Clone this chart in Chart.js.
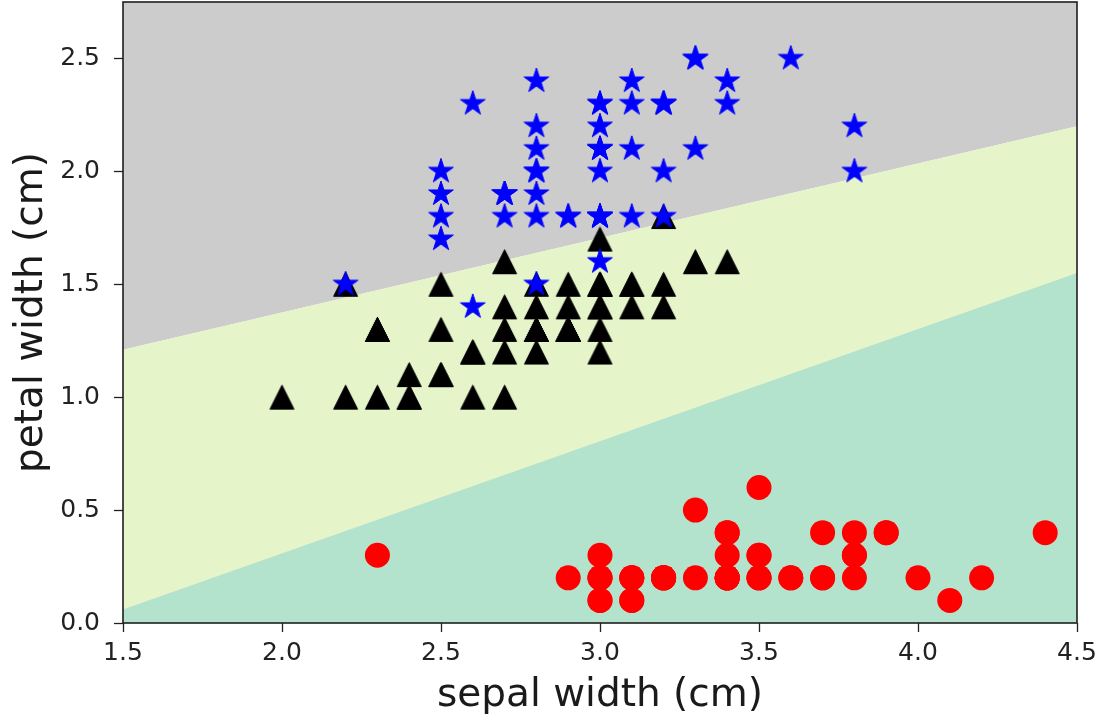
<!DOCTYPE html>
<html>
<head>
<meta charset="utf-8">
<script src="https://cdn.jsdelivr.net/npm/chart.js@4/dist/chart.umd.min.js"></script>
<style>
  html, body { margin: 0; padding: 0; background: #ffffff; }
  #wrap { width: 1095px; height: 720px; }
</style>
</head>
<body>
<div id="wrap"><canvas id="c" width="1095" height="720"></canvas></div>
<script>
// ---- Data ----
const setosaSepalWidth  = [3.5,3.0,3.2,3.1,3.6,3.9,3.4,3.4,2.9,3.1,3.7,3.4,3.0,3.0,4.0,4.4,3.9,3.5,3.8,3.8,3.4,3.7,3.6,3.3,3.4,3.0,3.4,3.5,3.4,3.2,3.1,3.4,4.1,4.2,3.1,3.2,3.5,3.1,3.0,3.4,3.5,2.3,3.2,3.5,3.8,3.0,3.8,3.2,3.7,3.3];
const setosaPetalWidth  = [0.2,0.2,0.2,0.2,0.2,0.4,0.3,0.2,0.2,0.1,0.2,0.2,0.1,0.1,0.2,0.4,0.4,0.3,0.3,0.3,0.2,0.4,0.2,0.5,0.2,0.2,0.4,0.2,0.2,0.2,0.2,0.4,0.1,0.2,0.2,0.2,0.2,0.1,0.2,0.2,0.3,0.3,0.2,0.6,0.4,0.3,0.2,0.2,0.2,0.2];

const versicolorSepalWidth = [3.2,3.2,3.1,2.3,2.8,2.8,3.3,2.4,2.9,2.7,2.0,3.0,2.2,2.9,2.9,3.1,3.0,2.7,2.2,2.5,3.2,2.8,2.5,2.8,2.9,3.0,2.8,3.0,2.9,2.6,2.4,2.4,2.7,2.7,3.0,3.4,3.1,2.3,3.0,2.5,2.6,3.0,2.6,2.3,2.7,3.0,2.9,2.9,2.5,2.8];
const versicolorPetalWidth = [1.4,1.5,1.5,1.3,1.5,1.3,1.6,1.0,1.3,1.4,1.0,1.5,1.0,1.4,1.3,1.4,1.5,1.0,1.5,1.1,1.8,1.3,1.5,1.2,1.3,1.4,1.4,1.7,1.5,1.0,1.1,1.0,1.2,1.6,1.5,1.6,1.5,1.3,1.3,1.3,1.2,1.4,1.2,1.0,1.3,1.2,1.3,1.3,1.1,1.3];

const virginicaSepalWidth = [3.3,2.7,3.0,2.9,3.0,3.0,2.5,2.9,2.5,3.6,3.2,2.7,3.0,2.5,2.8,3.2,3.0,3.8,2.6,2.2,3.2,2.8,2.8,2.7,3.3,3.2,2.8,3.0,2.8,3.0,2.8,3.8,2.8,2.8,2.6,3.0,3.4,3.1,3.0,3.1,3.1,3.1,2.7,3.2,3.3,3.0,2.5,3.0,3.4,3.0];
const virginicaPetalWidth = [2.5,1.9,2.1,1.8,2.2,2.1,1.7,1.8,1.8,2.5,2.0,1.9,2.1,2.0,2.4,2.3,1.8,2.2,2.3,1.5,2.3,2.0,2.0,1.8,2.1,1.8,1.8,1.8,2.1,1.6,1.9,2.0,2.2,1.5,1.4,2.3,2.4,1.8,1.8,2.1,2.4,2.3,1.9,2.3,2.5,2.3,1.9,2.0,2.3,1.8];

// Decision boundaries (sepal width -> petal width), read at the plot edges
const boundaryX     = [1.5, 4.5];
const upperBoundary = [1.21, 2.20];   // grey / yellow-green
const lowerBoundary = [0.06, 1.55];   // yellow-green / teal

const xTickValues = [1.5, 2.0, 2.5, 3.0, 3.5, 4.0, 4.5];
const yTickValues = [0.0, 0.5, 1.0, 1.5, 2.0, 2.5];
const xTitle = 'sepal width (cm)';
const yTitle = 'petal width (cm)';

// ---- helpers ----
const pts = (xs, ys) => xs.map((x, i) => ({x: x, y: ys[i]}));

function makeTriangle(color, h) {
  const s = Math.ceil(2 * h + 3);
  const cv = document.createElement('canvas');
  cv.width = s; cv.height = s;
  const c = cv.getContext('2d');
  const cx = s / 2, cy = s / 2;
  c.beginPath();
  c.moveTo(cx, cy - h);
  c.lineTo(cx - h, cy + h);
  c.lineTo(cx + h, cy + h);
  c.closePath();
  c.fillStyle = color; c.fill();
  c.lineWidth = 1; c.strokeStyle = color; c.stroke();
  return cv;
}
function makeStar(color, R) {
  const s = Math.ceil(2 * R + 4);
  const cv = document.createElement('canvas');
  cv.width = s; cv.height = s;
  const c = cv.getContext('2d');
  const cx = s / 2, cy = s / 2;
  const r = R * 0.381966;
  c.beginPath();
  for (let k = 0; k < 10; k++) {
    const rad = (k % 2 === 0) ? R : r;
    const a = -Math.PI / 2 + k * Math.PI / 5;
    const px = cx + rad * Math.cos(a), py = cy + rad * Math.sin(a);
    if (k === 0) c.moveTo(px, py); else c.lineTo(px, py);
  }
  c.closePath();
  c.fillStyle = color; c.fill();
  c.lineWidth = 1; c.strokeStyle = color; c.lineJoin = 'round'; c.stroke();
  return cv;
}

const triImg = makeTriangle('#000000', 12);
const starImg = makeStar('#0000ff', 13);

const framePlugin = {
  id: 'frame',
  afterDatasetsDraw(chart) {
    const a = chart.chartArea, ctx = chart.ctx;
    ctx.save();
    ctx.strokeStyle = '#1f1f1f';
    ctx.lineWidth = 1.6;
    ctx.strokeRect(a.left, a.top, a.right - a.left, a.bottom - a.top);
    ctx.restore();
  }
};

const tickFont = {family: 'DejaVu Sans', size: 25};
const titleFont = {family: 'DejaVu Sans', size: 39};

new Chart(document.getElementById('c'), {
  type: 'scatter',
  data: {
    datasets: [
      { type: 'line', label: 'grey', data: pts(boundaryX, upperBoundary), fill: 'end',
        backgroundColor: '#cccccc', borderWidth: 0, pointRadius: 0, order: 30 },
      { type: 'line', label: 'yellow', data: pts(boundaryX, upperBoundary), fill: 'start',
        backgroundColor: '#e5f4c9', borderWidth: 0, pointRadius: 0, order: 29 },
      { type: 'line', label: 'teal', data: pts(boundaryX, lowerBoundary), fill: 'start',
        backgroundColor: '#b3e2cd', borderWidth: 0, pointRadius: 0, order: 28 },
      { label: 'setosa', data: pts(setosaSepalWidth, setosaPetalWidth),
        pointStyle: 'circle', pointRadius: 12.5, backgroundColor: '#ff0000', borderWidth: 0, order: 3 },
      { label: 'versicolor', data: pts(versicolorSepalWidth, versicolorPetalWidth),
        pointStyle: triImg, pointRadius: 12, order: 2 },
      { label: 'virginica', data: pts(virginicaSepalWidth, virginicaPetalWidth),
        pointStyle: starImg, pointRadius: 12, order: 1 }
    ]
  },
  options: {
    responsive: false,
    animation: false,
    events: [],
    layout: { autoPadding: false, padding: { left: 0, right: 18, top: 2, bottom: 0 } },
    plugins: { legend: { display: false }, tooltip: { enabled: false } },
    scales: {
      x: {
        type: 'linear', min: 1.5, max: 4.5,
        afterBuildTicks: s => { s.ticks = xTickValues.map(v => ({value: v})); },
        afterFit: s => { s.height = 97; s.paddingLeft = 0; s.paddingRight = 0; },
        ticks: { font: tickFont, color: '#222222', padding: 6, maxRotation: 0, autoSkip: false,
                 callback: v => v.toFixed(1) },
        grid: { drawOnChartArea: false, drawTicks: true, tickLength: 9, tickWidth: 1.3, tickColor: '#222222' },
        border: { display: false },
        title: { display: true, text: xTitle, font: titleFont, color: '#1a1a1a', padding: {top: 0, bottom: 1} }
      },
      y: {
        type: 'linear', min: 0, max: 2.75,
        afterBuildTicks: s => { s.ticks = yTickValues.map(v => ({value: v})); },
        afterFit: s => { s.width = 123; s.paddingTop = 0; s.paddingBottom = 0; },
        ticks: { font: tickFont, color: '#222222', padding: 14, autoSkip: false,
                 callback: v => v.toFixed(1) },
        grid: { drawOnChartArea: false, drawTicks: true, tickLength: 9, tickWidth: 1.3, tickColor: '#222222' },
        border: { display: false },
        title: { display: true, text: yTitle, font: titleFont, color: '#1a1a1a', padding: {top: 8, bottom: 0} }
      }
    }
  },
  plugins: [framePlugin]
});
</script>
</body>
</html>
